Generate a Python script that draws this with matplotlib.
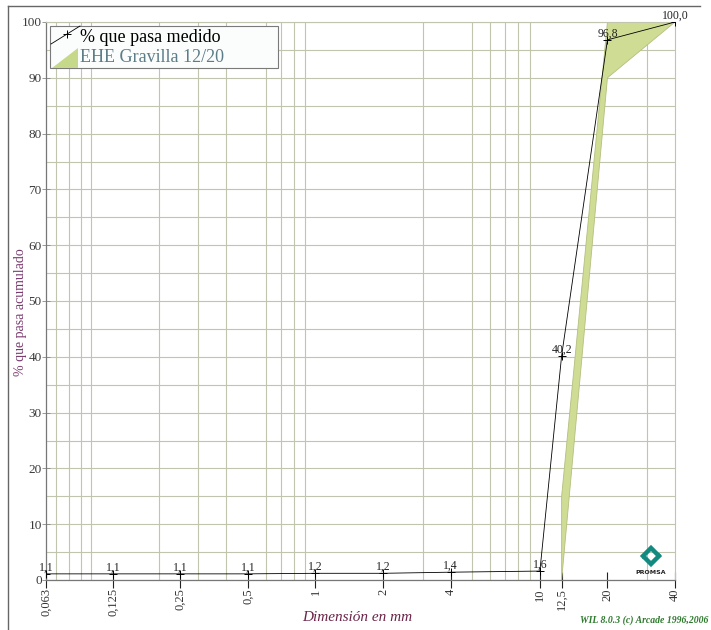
import numpy as np
import matplotlib
matplotlib.use("Agg")
import matplotlib.pyplot as plt
from matplotlib.ticker import FixedLocator, LogLocator, MultipleLocator, NullFormatter
from matplotlib.patches import Rectangle, Polygon
from matplotlib.lines import Line2D

plt.rcParams['font.family'] = ['Liberation Serif', 'DejaVu Serif']

# Granulometria medida
sieves = [0.063, 0.125, 0.25, 0.5, 1, 2, 4, 10, 12.5, 20, 40]
passing = [1.1, 1.1, 1.1, 1.1, 1.2, 1.2, 1.4, 1.6, 40.2, 96.8, 100.0]
sieve_labels = ["0,063", "0,125", "0,25", "0,5", "1", "2", "4", "10", "12,5", "20", "40"]

# Huso EHE Gravilla 12/20
band_sieves = [12.5, 20, 40]
band_lower = [0, 90, 100]
band_upper = [15, 100, 100]

W, H = 711, 630
grid_col = '#c2c5ae'


def fx(px):
    return px / W


def fy(py):
    return 1 - py / H


fig = plt.figure(figsize=(W / 100, H / 100), dpi=100)
ax = fig.add_axes([fx(46), fy(580), (675 - 46) / W, (580 - 22) / H])

# band
poly_x = band_sieves + band_sieves[::-1]
poly_y = band_lower + band_upper[::-1]
ax.fill(poly_x, poly_y, facecolor='#cfdc94', edgecolor='#b4bf80', lw=0.6, zorder=2)

# measured curve
ax.plot(sieves, passing, color='black', lw=0.6, marker='+', ms=6, mew=0.7, zorder=3)
for s, p in zip(sieves, passing):
    ax.annotate(f"{p:.1f}".replace('.', ','), (s, p), xytext=(0, 0.3),
                textcoords='offset points', ha='center', va='bottom',
                fontsize=8.5, color='#222222', zorder=4)

ax.set_xscale('log')
ax.set_xlim(0.063, 40)
ax.set_ylim(0, 100)

ax.xaxis.set_major_locator(FixedLocator(sieves))
ax.set_xticklabels(sieve_labels, rotation=90, fontsize=9, color='#333333')
ax.xaxis.set_minor_locator(LogLocator(base=10, subs=np.arange(1, 10), numticks=20))
ax.xaxis.set_minor_formatter(NullFormatter())
ax.yaxis.set_major_locator(MultipleLocator(10))
ax.yaxis.set_minor_locator(MultipleLocator(5))

ax.tick_params(axis='x', which='major', direction='inout', length=12, width=0.8,
               color='#222222', pad=0)
ax.tick_params(axis='x', which='minor', length=0)
ax.tick_params(axis='y', which='major', direction='inout', length=6, width=0.6,
               color='#888888', labelsize=9.5, labelcolor='#3a3a3a', pad=0)
ax.tick_params(axis='y', which='minor', length=0)

ax.grid(False, axis='x', which='major')
ax.grid(True, axis='x', which='minor', color=grid_col, lw=0.8)
ax.grid(True, axis='y', which='both', color=grid_col, lw=0.8)
ax.set_axisbelow(True)

for side in ['top', 'right']:
    ax.spines[side].set_color(grid_col)
for side in ['left', 'bottom']:
    ax.spines[side].set_color('#777777')
    ax.spines[side].set_linewidth(0.9)

ax.set_xlabel("Dimensión en mm", fontsize=11, style='italic', color='#6b2448')
ax.set_ylabel("% que pasa acumulado", fontsize=10, color='#7a3b70')
ax.xaxis.set_label_coords(0.495, -0.055)
ax.yaxis.set_label_coords(-0.031, 0.48)

# outer frame (top and left)
fig.add_artist(Line2D([fx(8), fx(700)], [fy(6), fy(6)], color='#666666', lw=1))
fig.add_artist(Line2D([fx(8), fx(8)], [fy(6), fy(630)], color='#666666', lw=1))

# legend drawn by hand
fig.add_artist(Rectangle((fx(50), fy(68)), (278 - 50) / W, (68 - 26) / H,
                         transform=fig.transFigure, facecolor='#fbfdfd',
                         edgecolor='#7a7a7a', lw=0.8))
fig.add_artist(Line2D([fx(51), fx(80)], [fy(44), fy(26)], color='black', lw=0.6))
fig.add_artist(Line2D([fx(67)], [fy(34)], color='black', marker='+', ms=6, mew=0.7))
fig.add_artist(Polygon([(fx(52), fy(68)), (fx(78), fy(68)), (fx(78), fy(48))],
                       closed=True, transform=fig.transFigure,
                       facecolor='#c6d98a', edgecolor='none'))
fig.text(fx(80), fy(37), "% que pasa medido", fontsize=13, color='black', va='center')
fig.text(fx(80), fy(58), "EHE Gravilla 12/20", fontsize=13, color='#5c7d88', va='center')

# PROMSA logo
teal = '#138a80'
fig.add_artist(Line2D([fx(643), fx(651), fx(658)], [fy(556), fy(548), fy(555)],
                      color=teal, lw=3.2, solid_joinstyle='miter'))
fig.add_artist(Line2D([fx(645), fx(651), fx(659)], [fy(558), fy(564), fy(556)],
                      color=teal, lw=3.2, solid_joinstyle='miter'))
fig.text(fx(651), fy(573), "PROMSA", fontsize=4.5, weight='bold', color='#222222',
         ha='center', va='center', family='DejaVu Sans')

fig.text(fx(708), fy(620), "WIL 8.0.3 (c) Arcade 1996,2006", fontsize=7,
         style='italic', weight='bold', color='#2e7a2e', ha='right', va='center')

fig.savefig("out.png", dpi=100)
